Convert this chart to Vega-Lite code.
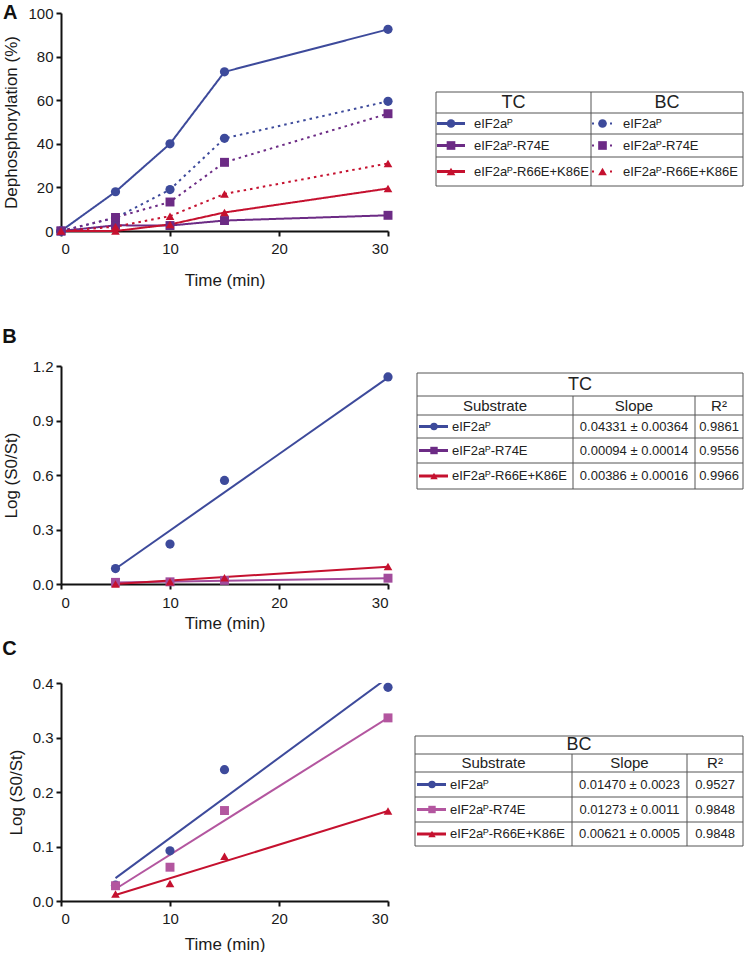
{
 "$schema": "https://vega.github.io/schema/vega-lite/v6.json",
 "autosize": {"type": "pad"},
 "padding": {"left": 2, "top": 3, "right": 0, "bottom": 0},
 "background": "white",
 "config": {
  "view": {"stroke": null},
  "font": "Liberation Sans",
  "axis": {"grid": false, "domainColor": "#111", "domainWidth": 2, "tickColor": "#111", "tickWidth": 2, "tickSize": 5, "labelFont": "Liberation Sans", "labelFontSize": 15, "labelColor": "#1a1a1a", "titleFont": "Liberation Sans", "titleFontSize": 17, "titleFontWeight": "normal", "titleColor": "#1a1a1a"},
  "title": {"font": "Liberation Sans", "fontSize": 20, "fontWeight": "bold", "color": "#111", "anchor": "start", "frame": "bounds", "offset": 0}
 },
 "resolve": {"scale": {"color": "independent", "shape": "independent", "size": "independent", "strokeDash": "independent"}},
 "datasets": {
  "a": [
   {"t": 0, "v": 0, "s": "eIF2aP", "k": "TC"}, {"t": 5, "v": 18, "s": "eIF2aP", "k": "TC"}, {"t": 10, "v": 40, "s": "eIF2aP", "k": "TC"}, {"t": 15, "v": 73, "s": "eIF2aP", "k": "TC"}, {"t": 30, "v": 92.5, "s": "eIF2aP", "k": "TC"},
   {"t": 0, "v": 0, "s": "R74E", "k": "TC"}, {"t": 5, "v": 2.6, "s": "R74E", "k": "TC"}, {"t": 10, "v": 2.5, "s": "R74E", "k": "TC"}, {"t": 15, "v": 4.8, "s": "R74E", "k": "TC"}, {"t": 30, "v": 7.2, "s": "R74E", "k": "TC"},
   {"t": 0, "v": 0, "s": "R66E+K86E", "k": "TC"}, {"t": 5, "v": 0, "s": "R66E+K86E", "k": "TC"}, {"t": 10, "v": 3, "s": "R66E+K86E", "k": "TC"}, {"t": 15, "v": 8.5, "s": "R66E+K86E", "k": "TC"}, {"t": 30, "v": 19.5, "s": "R66E+K86E", "k": "TC"},
   {"t": 0, "v": 0, "s": "eIF2aP", "k": "BC"}, {"t": 5, "v": 6, "s": "eIF2aP", "k": "BC"}, {"t": 10, "v": 19, "s": "eIF2aP", "k": "BC"}, {"t": 15, "v": 42.5, "s": "eIF2aP", "k": "BC"}, {"t": 30, "v": 59.5, "s": "eIF2aP", "k": "BC"},
   {"t": 0, "v": 0, "s": "R74E", "k": "BC"}, {"t": 5, "v": 6.2, "s": "R74E", "k": "BC"}, {"t": 10, "v": 13.3, "s": "R74E", "k": "BC"}, {"t": 15, "v": 31.5, "s": "R74E", "k": "BC"}, {"t": 30, "v": 53.8, "s": "R74E", "k": "BC"},
   {"t": 0, "v": 0, "s": "R66E+K86E", "k": "BC"}, {"t": 5, "v": 2, "s": "R66E+K86E", "k": "BC"}, {"t": 10, "v": 6.8, "s": "R66E+K86E", "k": "BC"}, {"t": 15, "v": 17, "s": "R66E+K86E", "k": "BC"}, {"t": 30, "v": 31, "s": "R66E+K86E", "k": "BC"}
  ],
  "bp": [
   {"t": 5, "v": 0.085, "s": "eIF2aP"}, {"t": 10, "v": 0.22, "s": "eIF2aP"}, {"t": 15, "v": 0.57, "s": "eIF2aP"}, {"t": 30, "v": 1.14, "s": "eIF2aP"},
   {"t": 5, "v": 0.009, "s": "R74E"}, {"t": 10, "v": 0.012, "s": "R74E"}, {"t": 15, "v": 0.02, "s": "R74E"}, {"t": 30, "v": 0.032, "s": "R74E"},
   {"t": 5, "v": 0.0, "s": "R66E+K86E"}, {"t": 10, "v": 0.012, "s": "R66E+K86E"}, {"t": 15, "v": 0.035, "s": "R66E+K86E"}, {"t": 30, "v": 0.096, "s": "R66E+K86E"}
  ],
  "bf": [
   {"t": 5, "v": 0.084, "s": "eIF2aP"}, {"t": 30, "v": 1.136, "s": "eIF2aP"},
   {"t": 5, "v": 0.008, "s": "R74E"}, {"t": 30, "v": 0.032, "s": "R74E"},
   {"t": 5, "v": 0.0, "s": "R66E+K86E"}, {"t": 30, "v": 0.095, "s": "R66E+K86E"}
  ],
  "cp": [
   {"t": 5, "v": 0.029, "s": "eIF2aP"}, {"t": 10, "v": 0.092, "s": "eIF2aP"}, {"t": 15, "v": 0.241, "s": "eIF2aP"}, {"t": 30, "v": 0.392, "s": "eIF2aP"},
   {"t": 5, "v": 0.028, "s": "R74E"}, {"t": 10, "v": 0.062, "s": "R74E"}, {"t": 15, "v": 0.166, "s": "R74E"}, {"t": 30, "v": 0.336, "s": "R74E"},
   {"t": 5, "v": 0.013, "s": "R66E+K86E"}, {"t": 10, "v": 0.032, "s": "R66E+K86E"}, {"t": 15, "v": 0.082, "s": "R66E+K86E"}, {"t": 30, "v": 0.165, "s": "R66E+K86E"}
  ],
  "cf": [
   {"t": 5, "v": 0.042, "s": "eIF2aP"}, {"t": 30, "v": 0.41, "s": "eIF2aP"},
   {"t": 5, "v": 0.022, "s": "R74E"}, {"t": 30, "v": 0.336, "s": "R74E"},
   {"t": 5, "v": 0.011, "s": "R66E+K86E"}, {"t": 30, "v": 0.165, "s": "R66E+K86E"}
  ],
  "ta": [
   {"kind": "g", "c": 0, "c2": 2, "r": 0, "r2": 0}, {"kind": "g", "c": 0, "c2": 2, "r": 1, "r2": 1}, {"kind": "g", "c": 0, "c2": 2, "r": 2, "r2": 2}, {"kind": "g", "c": 0, "c2": 2, "r": 3, "r2": 3}, {"kind": "g", "c": 0, "c2": 2, "r": 4, "r2": 4},
   {"kind": "g", "c": 0, "c2": 0, "r": 0, "r2": 4}, {"kind": "g", "c": 1, "c2": 1, "r": 0, "r2": 4}, {"kind": "g", "c": 2, "c2": 2, "r": 0, "r2": 4},
   {"kind": "hd", "c": 0.5, "r": 0.5, "txt": "TC"}, {"kind": "hd", "c": 1.5, "r": 0.5, "txt": "BC"},
   {"kind": "tc", "c": 0, "r": 1.5, "txt": "eIF2aᴾ", "sym": "eIF2aP"}, {"kind": "tc", "c": 0, "r": 2.5, "txt": "eIF2aᴾ-R74E", "sym": "R74E"}, {"kind": "tc", "c": 0, "r": 3.5, "txt": "eIF2aᴾ-R66E+K86E", "sym": "R66E+K86E"},
   {"kind": "bc", "c": 1, "r": 1.5, "txt": "eIF2aᴾ", "sym": "eIF2aP"}, {"kind": "bc", "c": 1, "r": 2.5, "txt": "eIF2aᴾ-R74E", "sym": "R74E"}, {"kind": "bc", "c": 1, "r": 3.5, "txt": "eIF2aᴾ-R66E+K86E", "sym": "R66E+K86E"}
  ],
  "tb": [
   {"kind": "g", "c": 0, "c2": 3, "r": 0, "r2": 0}, {"kind": "g", "c": 0, "c2": 3, "r": 1, "r2": 1}, {"kind": "g", "c": 0, "c2": 3, "r": 2, "r2": 2}, {"kind": "g", "c": 0, "c2": 3, "r": 3, "r2": 3}, {"kind": "g", "c": 0, "c2": 3, "r": 4, "r2": 4}, {"kind": "g", "c": 0, "c2": 3, "r": 5, "r2": 5},
   {"kind": "g", "c": 0, "c2": 0, "r": 0, "r2": 5}, {"kind": "g", "c": 3, "c2": 3, "r": 0, "r2": 5}, {"kind": "g", "c": 1, "c2": 1, "r": 1, "r2": 5}, {"kind": "g", "c": 2, "c2": 2, "r": 1, "r2": 5},
   {"kind": "hd", "c": 0.5, "r": 0.5, "txt": "TC"},
   {"kind": "ch", "c": 0.5, "r": 1.5, "txt": "Substrate"}, {"kind": "ch", "c": 1.5, "r": 1.5, "txt": "Slope"}, {"kind": "ch", "c": 2.5, "r": 1.5, "txt": "R²"},
   {"kind": "lb", "c": 0, "r": 2.5, "txt": "eIF2aᴾ", "sym": "eIF2aP"}, {"kind": "lb", "c": 0, "r": 3.5, "txt": "eIF2aᴾ-R74E", "sym": "R74E"}, {"kind": "lb", "c": 0, "r": 4.5, "txt": "eIF2aᴾ-R66E+K86E", "sym": "R66E+K86E"},
   {"kind": "val", "c": 1.5, "r": 2.5, "txt": "0.04331 ± 0.00364"}, {"kind": "val", "c": 2.5, "r": 2.5, "txt": "0.9861"},
   {"kind": "val", "c": 1.5, "r": 3.5, "txt": "0.00094 ± 0.00014"}, {"kind": "val", "c": 2.5, "r": 3.5, "txt": "0.9556"},
   {"kind": "val", "c": 1.5, "r": 4.5, "txt": "0.00386 ± 0.00016"}, {"kind": "val", "c": 2.5, "r": 4.5, "txt": "0.9966"}
  ],
  "tcc": [
   {"kind": "g", "c": 0, "c2": 3, "r": 0, "r2": 0}, {"kind": "g", "c": 0, "c2": 3, "r": 1, "r2": 1}, {"kind": "g", "c": 0, "c2": 3, "r": 2, "r2": 2}, {"kind": "g", "c": 0, "c2": 3, "r": 3, "r2": 3}, {"kind": "g", "c": 0, "c2": 3, "r": 4, "r2": 4}, {"kind": "g", "c": 0, "c2": 3, "r": 5, "r2": 5},
   {"kind": "g", "c": 0, "c2": 0, "r": 0, "r2": 5}, {"kind": "g", "c": 3, "c2": 3, "r": 0, "r2": 5}, {"kind": "g", "c": 1, "c2": 1, "r": 1, "r2": 5}, {"kind": "g", "c": 2, "c2": 2, "r": 1, "r2": 5},
   {"kind": "hd", "c": 0.5, "r": 0.5, "txt": "BC"},
   {"kind": "ch", "c": 0.5, "r": 1.5, "txt": "Substrate"}, {"kind": "ch", "c": 1.5, "r": 1.5, "txt": "Slope"}, {"kind": "ch", "c": 2.5, "r": 1.5, "txt": "R²"},
   {"kind": "lb", "c": 0, "r": 2.5, "txt": "eIF2aᴾ", "sym": "eIF2aP"}, {"kind": "lb", "c": 0, "r": 3.5, "txt": "eIF2aᴾ-R74E", "sym": "R74E"}, {"kind": "lb", "c": 0, "r": 4.5, "txt": "eIF2aᴾ-R66E+K86E", "sym": "R66E+K86E"},
   {"kind": "val", "c": 1.5, "r": 2.5, "txt": "0.01470 ± 0.0023"}, {"kind": "val", "c": 2.5, "r": 2.5, "txt": "0.9527"},
   {"kind": "val", "c": 1.5, "r": 3.5, "txt": "0.01273 ± 0.0011"}, {"kind": "val", "c": 2.5, "r": 3.5, "txt": "0.9848"},
   {"kind": "val", "c": 1.5, "r": 4.5, "txt": "0.00621 ± 0.0005"}, {"kind": "val", "c": 2.5, "r": 4.5, "txt": "0.9848"}
  ]
 },
 "columns": 2,
 "bounds": "flush",
 "spacing": {"row": 99, "column": 24},
 "concat": [
  {
   "width": 327, "height": 218,
   "title": {"text": "A", "dy": 21},
   "data": {"name": "a"},
   "encoding": {
    "x": {"field": "t", "type": "quantitative", "scale": {"domain": [0, 30], "nice": false}, "axis": {"values": [0, 10, 20, 30], "title": "Time (min)", "labelPadding": 5, "titlePadding": 16}},
    "y": {"field": "v", "type": "quantitative", "scale": {"domain": [0, 100], "nice": false}, "axis": {"values": [0, 20, 40, 60, 80, 100], "title": "Dephosphorylation (%)", "labelPadding": 3, "titlePadding": 7}},
    "color": {"field": "s", "type": "nominal", "scale": {"domain": ["eIF2aP", "R74E", "R66E+K86E"], "range": ["#3D4A9B", "#6C2B85", "#C5112F"]}, "legend": null}
   },
   "layer": [
    {"mark": {"type": "line", "strokeWidth": 2},
     "encoding": {"strokeDash": {"field": "k", "type": "nominal", "scale": {"domain": ["TC", "BC"], "range": [[1, 0], [2.5, 4]]}, "legend": null}}},
    {"mark": {"type": "point", "filled": true, "opacity": 1},
     "encoding": {
      "shape": {"field": "s", "type": "nominal", "scale": {"domain": ["eIF2aP", "R74E", "R66E+K86E"], "range": ["circle", "square", "triangle-up"]}, "legend": null},
      "size": {"field": "s", "type": "nominal", "scale": {"domain": ["eIF2aP", "R74E", "R66E+K86E"], "range": [85, 75, 85]}, "legend": null}
     }}
   ]
  },
  {
   "width": 331, "height": 254,
   "data": {"name": "ta"},
   "encoding": {
    "x": {"field": "c", "type": "quantitative", "scale": {"domain": [0, 1, 2], "range": [24, 179, 331], "nice": false, "zero": false}, "axis": null},
    "y": {"field": "r", "type": "quantitative", "scale": {"domain": [0, 1, 2, 3, 4], "range": [79, 100, 121, 144, 173], "nice": false, "zero": false}, "axis": null},
    "color": {"field": "sym", "type": "nominal", "scale": {"domain": ["eIF2aP", "R74E", "R66E+K86E"], "range": ["#3D4A9B", "#6C2B85", "#C5112F"]}, "legend": null}
   },
   "layer": [
    {"transform": [{"filter": "datum.kind === 'g'"}], "mark": {"type": "rule", "strokeWidth": 1}, "encoding": {"color": {"value": "#555"}, "x2": {"field": "c2"}, "y2": {"field": "r2"}}},
    {"transform": [{"filter": "datum.kind === 'hd'"}], "mark": {"type": "text", "fontSize": 18, "align": "center", "baseline": "middle"}, "encoding": {"color": {"value": "#222"}, "text": {"field": "txt"}}},
    {"transform": [{"filter": "datum.kind === 'tc'"}], "mark": {"type": "text", "fontSize": 13, "align": "left", "baseline": "middle", "dx": 38}, "encoding": {"color": {"value": "#222"}, "text": {"field": "txt"}}},
    {"transform": [{"filter": "datum.kind === 'bc'"}], "mark": {"type": "text", "fontSize": 13, "align": "left", "baseline": "middle", "dx": 32}, "encoding": {"color": {"value": "#222"}, "text": {"field": "txt"}}},
    {"transform": [{"filter": "datum.kind === 'tc'"}], "mark": {"type": "rule", "strokeWidth": 3, "xOffset": 1, "x2Offset": 29}, "encoding": {"x2": {"field": "c"}}},
    {"transform": [{"filter": "datum.kind === 'bc'"}], "mark": {"type": "rule", "strokeWidth": 2, "strokeDash": [2, 7], "xOffset": 1, "x2Offset": 22}, "encoding": {"x2": {"field": "c"}}},
    {"transform": [{"filter": "datum.kind === 'tc'"}], "mark": {"type": "point", "filled": true, "opacity": 1, "size": 75, "xOffset": 15},
     "encoding": {"shape": {"field": "sym", "type": "nominal", "scale": {"domain": ["eIF2aP", "R74E", "R66E+K86E"], "range": ["circle", "square", "triangle-up"]}, "legend": null}}},
    {"transform": [{"filter": "datum.kind === 'bc'"}], "mark": {"type": "point", "filled": true, "opacity": 1, "size": 75, "xOffset": 11.5},
     "encoding": {"shape": {"field": "sym", "type": "nominal", "scale": {"domain": ["eIF2aP", "R74E", "R66E+K86E"], "range": ["circle", "square", "triangle-up"]}, "legend": null}}}
   ]
  },
  {
   "width": 327, "height": 218,
   "title": {"text": "B", "dy": -8},
   "encoding": {
    "x": {"field": "t", "type": "quantitative", "scale": {"domain": [0, 30], "nice": false}, "axis": {"values": [0, 10, 20, 30], "title": "Time (min)", "labelPadding": 6, "titlePadding": 5}},
    "y": {"field": "v", "type": "quantitative", "scale": {"domain": [0, 1.2], "nice": false}, "axis": {"values": [0, 0.3, 0.6, 0.9, 1.2], "format": ".1f", "title": "Log (S0/St)", "labelPadding": 3, "titlePadding": 12}},
    "color": {"field": "s", "type": "nominal", "scale": {"domain": ["eIF2aP", "R74E", "R66E+K86E"], "range": ["#3D4A9B", "#A24C9C", "#C5112F"]}, "legend": null}
   },
   "layer": [
    {"data": {"name": "bf"}, "mark": {"type": "line", "strokeWidth": 2}},
    {"data": {"name": "bp"}, "mark": {"type": "point", "filled": true, "opacity": 1},
     "encoding": {
      "shape": {"field": "s", "type": "nominal", "scale": {"domain": ["eIF2aP", "R74E", "R66E+K86E"], "range": ["circle", "square", "triangle-up"]}, "legend": null},
      "size": {"field": "s", "type": "nominal", "scale": {"domain": ["eIF2aP", "R74E", "R66E+K86E"], "range": [85, 75, 85]}, "legend": null}
     }}
   ]
  },
  {
   "width": 331, "height": 218,
   "data": {"name": "tb"},
   "resolve": {"scale": {"x": "independent"}},
   "encoding": {
    "y": {"field": "r", "type": "quantitative", "scale": {"domain": [0, 1, 2, 3, 4, 5], "range": [7, 30, 49, 72, 97, 123], "nice": false, "zero": false}, "axis": null},
    "color": {"field": "sym", "type": "nominal", "scale": {"domain": ["eIF2aP", "R74E", "R66E+K86E"], "range": ["#3D4A9B", "#6C2B85", "#C5112F"]}, "legend": null}
   },
   "layer": [
    {"transform": [{"filter": "datum.kind === 'g'"}], "mark": {"type": "rule", "strokeWidth": 1},
     "encoding": {"color": {"value": "#555"}, "x": {"field": "c", "type": "quantitative", "scale": {"domain": [0, 1, 2, 3], "range": [5, 161, 283, 331], "nice": false, "zero": false}, "axis": null}, "x2": {"field": "c2"}, "y2": {"field": "r2"}}},
    {"transform": [{"filter": "datum.kind === 'hd'"}], "mark": {"type": "text", "fontSize": 18, "align": "center", "baseline": "middle"},
     "encoding": {"color": {"value": "#222"}, "x": {"field": "c", "type": "quantitative", "scale": {"domain": [0, 1], "range": [5, 331], "nice": false, "zero": false}, "axis": null}, "text": {"field": "txt"}}},
    {"transform": [{"filter": "datum.kind === 'ch'"}], "mark": {"type": "text", "fontSize": 15, "align": "center", "baseline": "middle"},
     "encoding": {"color": {"value": "#222"}, "x": {"field": "c", "type": "quantitative", "scale": {"domain": [0, 1, 2, 3], "range": [5, 161, 283, 331], "nice": false, "zero": false}, "axis": null}, "text": {"field": "txt"}}},
    {"transform": [{"filter": "datum.kind === 'val'"}], "mark": {"type": "text", "fontSize": 13, "align": "center", "baseline": "middle"},
     "encoding": {"color": {"value": "#222"}, "x": {"field": "c", "type": "quantitative", "scale": {"domain": [0, 1, 2, 3], "range": [5, 161, 283, 331], "nice": false, "zero": false}, "axis": null}, "text": {"field": "txt"}}},
    {"transform": [{"filter": "datum.kind === 'lb'"}], "mark": {"type": "text", "fontSize": 13, "align": "left", "baseline": "middle", "dx": 35},
     "encoding": {"color": {"value": "#222"}, "x": {"field": "c", "type": "quantitative", "scale": {"domain": [0, 1, 2, 3], "range": [5, 161, 283, 331], "nice": false, "zero": false}, "axis": null}, "text": {"field": "txt"}}},
    {"transform": [{"filter": "datum.kind === 'lb'"}], "mark": {"type": "rule", "strokeWidth": 3, "xOffset": 2, "x2Offset": 31},
     "encoding": {"x": {"field": "c", "type": "quantitative", "scale": {"domain": [0, 1, 2, 3], "range": [5, 161, 283, 331], "nice": false, "zero": false}, "axis": null}, "x2": {"field": "c"}}},
    {"transform": [{"filter": "datum.kind === 'lb'"}], "mark": {"type": "point", "filled": true, "opacity": 1, "size": 55, "xOffset": 17},
     "encoding": {
      "x": {"field": "c", "type": "quantitative", "scale": {"domain": [0, 1, 2, 3], "range": [5, 161, 283, 331], "nice": false, "zero": false}, "axis": null},
      "shape": {"field": "sym", "type": "nominal", "scale": {"domain": ["eIF2aP", "R74E", "R66E+K86E"], "range": ["circle", "square", "triangle-up"]}, "legend": null}
     }}
   ]
  },
  {
   "width": 327, "height": 218,
   "title": {"text": "C", "dy": -13, "dx": -5},
   "encoding": {
    "x": {"field": "t", "type": "quantitative", "scale": {"domain": [0, 30], "nice": false}, "axis": {"values": [0, 10, 20, 30], "title": "Time (min)", "labelPadding": 5, "titlePadding": 10}},
    "y": {"field": "v", "type": "quantitative", "scale": {"domain": [0, 0.4], "nice": false}, "axis": {"values": [0, 0.1, 0.2, 0.3, 0.4], "format": ".1f", "title": "Log (S0/St)", "labelPadding": 3, "titlePadding": 7}},
    "color": {"field": "s", "type": "nominal", "scale": {"domain": ["eIF2aP", "R74E", "R66E+K86E"], "range": ["#3D4A9B", "#B3569F", "#C5112F"]}, "legend": null}
   },
   "layer": [
    {"data": {"name": "cf"}, "mark": {"type": "line", "strokeWidth": 2, "clip": true}},
    {"data": {"name": "cp"}, "mark": {"type": "point", "filled": true, "opacity": 1},
     "encoding": {
      "shape": {"field": "s", "type": "nominal", "scale": {"domain": ["eIF2aP", "R74E", "R66E+K86E"], "range": ["circle", "square", "triangle-up"]}, "legend": null},
      "size": {"field": "s", "type": "nominal", "scale": {"domain": ["eIF2aP", "R74E", "R66E+K86E"], "range": [85, 75, 85]}, "legend": null}
     }}
   ]
  },
  {
   "width": 331, "height": 218,
   "data": {"name": "tcc"},
   "resolve": {"scale": {"x": "independent"}},
   "encoding": {
    "y": {"field": "r", "type": "quantitative", "scale": {"domain": [0, 1, 2, 3, 4, 5], "range": [53, 71, 89, 114, 139, 163], "nice": false, "zero": false}, "axis": null},
    "color": {"field": "sym", "type": "nominal", "scale": {"domain": ["eIF2aP", "R74E", "R66E+K86E"], "range": ["#3D4A9B", "#B3569F", "#C5112F"]}, "legend": null}
   },
   "layer": [
    {"transform": [{"filter": "datum.kind === 'g'"}], "mark": {"type": "rule", "strokeWidth": 1},
     "encoding": {"color": {"value": "#555"}, "x": {"field": "c", "type": "quantitative", "scale": {"domain": [0, 1, 2, 3], "range": [3, 160, 275, 331], "nice": false, "zero": false}, "axis": null}, "x2": {"field": "c2"}, "y2": {"field": "r2"}}},
    {"transform": [{"filter": "datum.kind === 'hd'"}], "mark": {"type": "text", "fontSize": 18, "align": "center", "baseline": "middle"},
     "encoding": {"color": {"value": "#222"}, "x": {"field": "c", "type": "quantitative", "scale": {"domain": [0, 1], "range": [3, 331], "nice": false, "zero": false}, "axis": null}, "text": {"field": "txt"}}},
    {"transform": [{"filter": "datum.kind === 'ch'"}], "mark": {"type": "text", "fontSize": 15, "align": "center", "baseline": "middle"},
     "encoding": {"color": {"value": "#222"}, "x": {"field": "c", "type": "quantitative", "scale": {"domain": [0, 1, 2, 3], "range": [3, 160, 275, 331], "nice": false, "zero": false}, "axis": null}, "text": {"field": "txt"}}},
    {"transform": [{"filter": "datum.kind === 'val'"}], "mark": {"type": "text", "fontSize": 13, "align": "center", "baseline": "middle"},
     "encoding": {"color": {"value": "#222"}, "x": {"field": "c", "type": "quantitative", "scale": {"domain": [0, 1, 2, 3], "range": [3, 160, 275, 331], "nice": false, "zero": false}, "axis": null}, "text": {"field": "txt"}}},
    {"transform": [{"filter": "datum.kind === 'lb'"}], "mark": {"type": "text", "fontSize": 13, "align": "left", "baseline": "middle", "dx": 35},
     "encoding": {"color": {"value": "#222"}, "x": {"field": "c", "type": "quantitative", "scale": {"domain": [0, 1, 2, 3], "range": [3, 160, 275, 331], "nice": false, "zero": false}, "axis": null}, "text": {"field": "txt"}}},
    {"transform": [{"filter": "datum.kind === 'lb'"}], "mark": {"type": "rule", "strokeWidth": 3, "xOffset": 2, "x2Offset": 31},
     "encoding": {"x": {"field": "c", "type": "quantitative", "scale": {"domain": [0, 1, 2, 3], "range": [3, 160, 275, 331], "nice": false, "zero": false}, "axis": null}, "x2": {"field": "c"}}},
    {"transform": [{"filter": "datum.kind === 'lb'"}], "mark": {"type": "point", "filled": true, "opacity": 1, "size": 55, "xOffset": 17},
     "encoding": {
      "x": {"field": "c", "type": "quantitative", "scale": {"domain": [0, 1, 2, 3], "range": [3, 160, 275, 331], "nice": false, "zero": false}, "axis": null},
      "shape": {"field": "sym", "type": "nominal", "scale": {"domain": ["eIF2aP", "R74E", "R66E+K86E"], "range": ["circle", "square", "triangle-up"]}, "legend": null}
     }}
   ]
  }
 ]
}
